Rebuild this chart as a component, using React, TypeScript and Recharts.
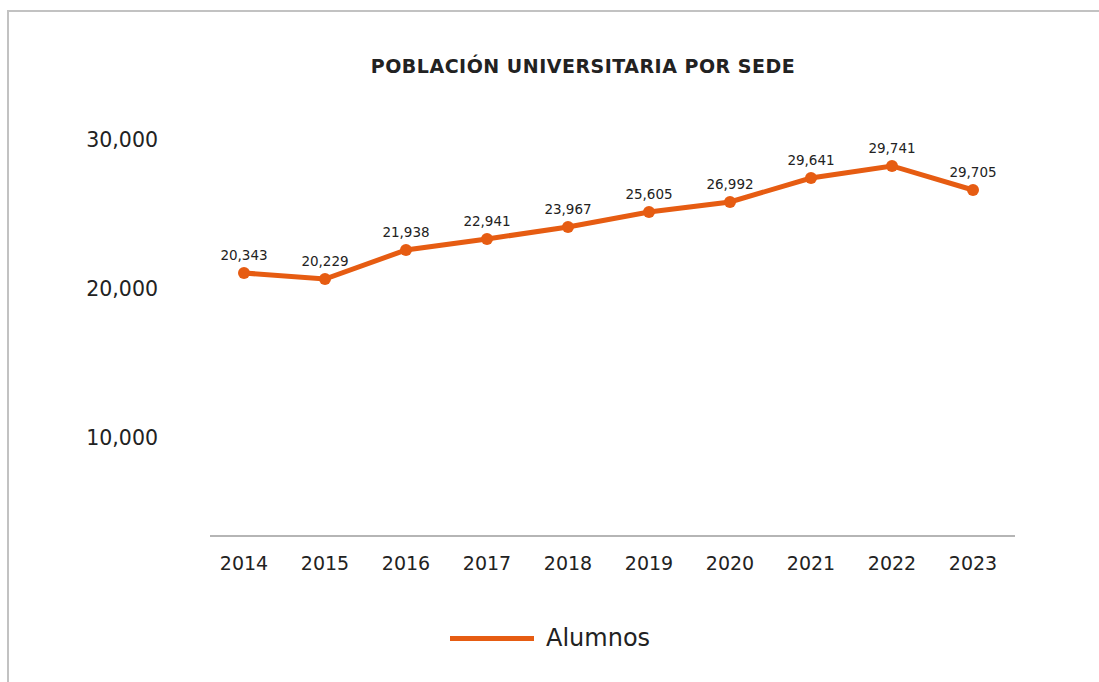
import React from 'react';
import { LineChart, Line, XAxis, YAxis, LabelList } from 'recharts';

const years = ['2014', '2015', '2016', '2017', '2018', '2019', '2020', '2021', '2022', '2023'];
// Plotted heights
const alumnos = [21058, 20655, 22602, 23341, 24146, 25153, 25825, 27436, 28242, 26630];
// Data-label texts as printed in the reference
const valueLabels = ['20,343', '20,229', '21,938', '22,941', '23,967', '25,605', '26,992', '29,641', '29,741', '29,705'];
const yTicks = [10000, 20000, 30000];
const seriesName = 'Alumnos';
const title = 'POBLACIÓN UNIVERSITARIA POR SEDE';

const ORANGE = '#E65C12';
const FONT = '"DejaVu Sans", "Noto Sans", sans-serif';

const data = years.map((y, i) => ({ year: y, alumnos: alumnos[i], label: valueLabels[i] }));

export default function App() {
  return (
    <div style={{ position: 'absolute', left: 0, top: 0, width: 1099, height: 682, background: '#fff', fontFamily: FONT, overflow: 'hidden' }}>
      <div style={{ position: 'absolute', left: 7, top: 10, width: 1092, height: 672, borderTop: '2px solid #c2c2c2', borderLeft: '2px solid #c2c2c2', boxSizing: 'border-box' }} />
      <div style={{ position: 'absolute', left: 583, top: 55, transform: 'translateX(-50%)', whiteSpace: 'nowrap', fontSize: 19, lineHeight: '22px', fontWeight: 'bold', letterSpacing: 0.5, color: '#222' }}>{title}</div>
      <div style={{ position: 'absolute', left: 0, top: 0 }}>
        <LineChart width={1099} height={682} data={data} margin={{ top: 110, right: 84, bottom: 106, left: 60 }}>
          <XAxis
            dataKey="year"
            height={40}
            padding={{ left: 34, right: 42 }}
            axisLine={{ stroke: '#b5b5b5', strokeWidth: 2 }}
            tickLine={false}
            tickMargin={15}
            tick={{ fontSize: 19, fill: '#222', fontFamily: FONT }}
          />
          <YAxis
            width={150}
            domain={[3400, 32000]}
            ticks={yTicks}
            axisLine={false}
            tickLine={false}
            tickMargin={46}
            tickFormatter={(v: number) => v.toLocaleString('en-US')}
            tick={{ fontSize: 20.5, fill: '#222', fontFamily: FONT }}
          />
          <Line
            type="linear"
            dataKey="alumnos"
            name={seriesName}
            stroke={ORANGE}
            strokeWidth={5}
            dot={{ r: 6, fill: ORANGE, stroke: 'none' }}
            isAnimationActive={false}
          >
            <LabelList dataKey="label" position="top" offset={13} style={{ fontSize: 13.5, fill: '#222', fontFamily: FONT }} />
          </Line>
        </LineChart>
      </div>
      <div style={{ position: 'absolute', left: 450, top: 636, width: 84, height: 5, background: ORANGE }} />
      <div style={{ position: 'absolute', left: 546, top: 622, fontSize: 24, lineHeight: '32px', color: '#222' }}>{seriesName}</div>
    </div>
  );
}
